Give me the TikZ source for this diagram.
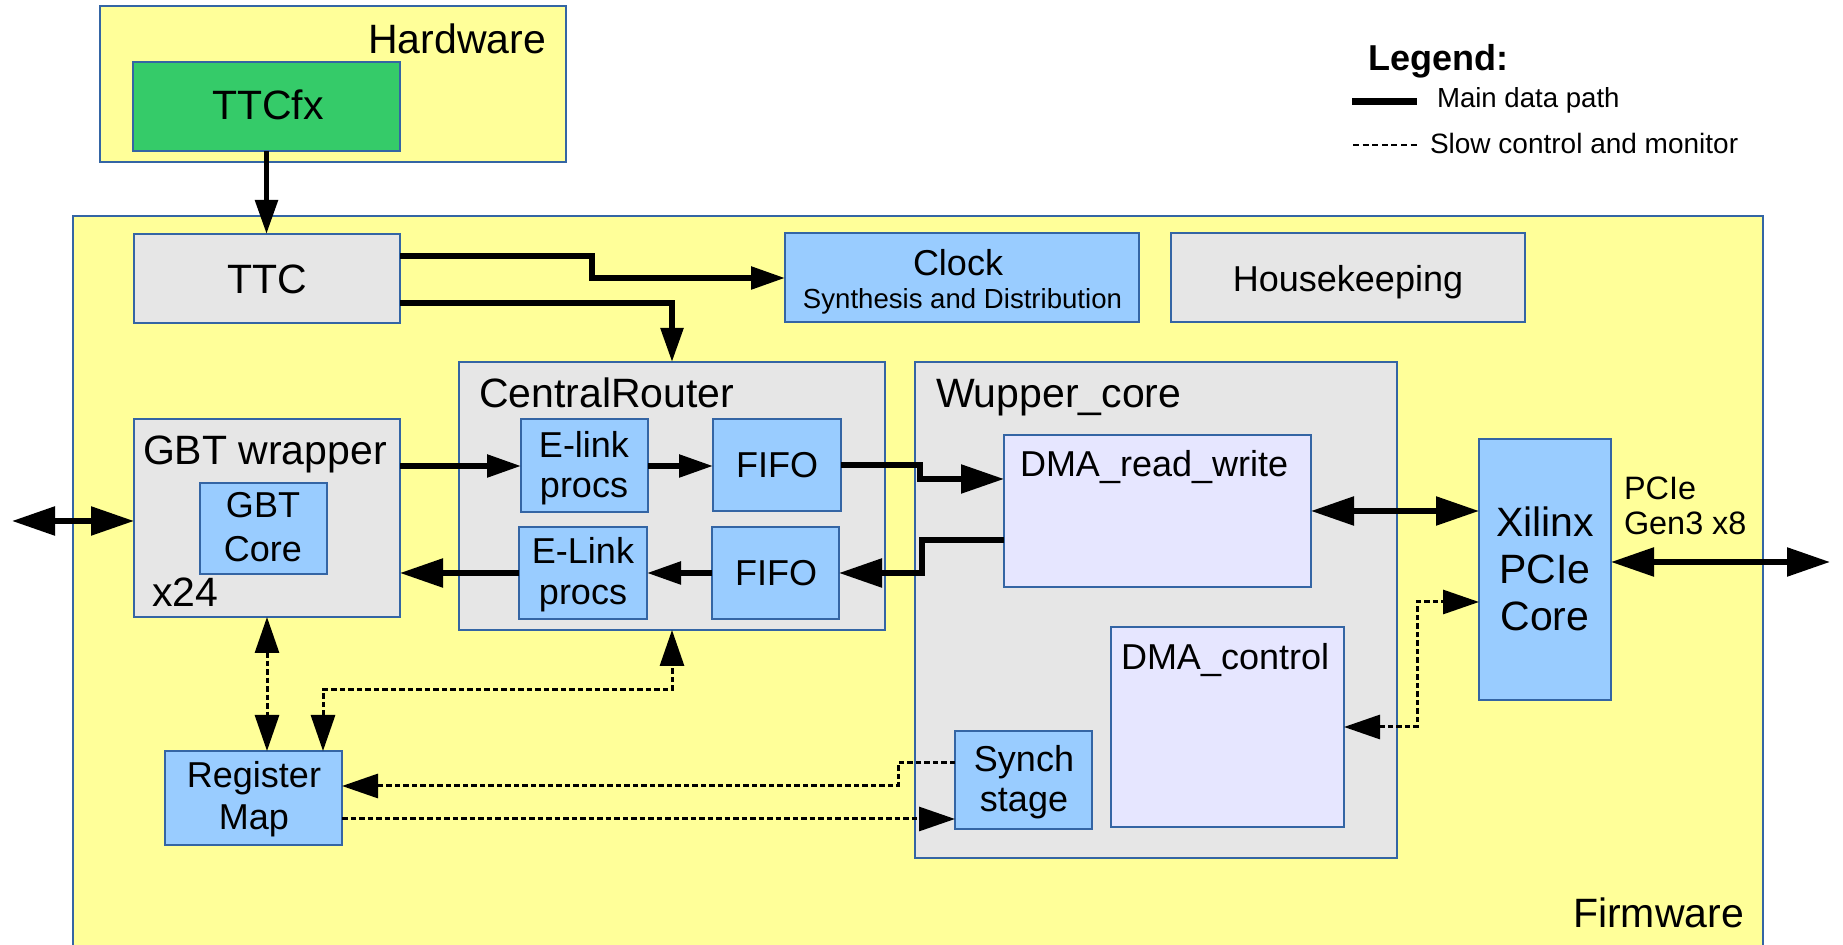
\documentclass[tikz,border=0pt]{standalone}
\usepackage{fontspec}
\setmainfont{Liberation Sans}
\usetikzlibrary{arrows.meta,fit}
\definecolor{fyellow}{HTML}{FFFF99}
\definecolor{fgray}{HTML}{E6E6E6}
\definecolor{fblue}{HTML}{99CCFF}
\definecolor{flav}{HTML}{E6E6FF}
\definecolor{fgreen}{HTML}{35CB69}
\definecolor{fborder}{HTML}{3465A4}
\tikzset{
  stdtip/.tip={Triangle[length=17pt,width=11pt]},
  bigtip/.tip={Triangle[length=21.5pt,width=14pt]},
  dottip/.tip={Triangle[length=18pt,width=12pt]},
  box/.style={draw=fborder, line width=1.3pt, inner sep=0pt, outer sep=0pt},
  outerbox/.style={box, line width=0.9pt, fill=fyellow},
  graybox/.style={box, fill=fgray},
  bluebox/.style={box, fill=fblue},
  lavbox/.style={box, fill=flav},
  greenbox/.style={box, fill=fgreen},
  data/.style={line width=2.75pt, line join=miter},
  ctrl/.style={line width=1.5pt, dash pattern=on 2.75pt off 1.5pt},
  lbl/.style={inner sep=0pt, outer sep=0pt},
  szL/.style={lbl, font=\fontsize{20.5pt}{24pt}\selectfont},
  szM/.style={lbl, font=\fontsize{18pt}{21pt}\selectfont},
  szS/.style={lbl, font=\fontsize{13.8pt}{16pt}\selectfont},
  szP/.style={lbl, font=\fontsize{16.2pt}{19pt}\selectfont},
}
\begin{document}
\begin{tikzpicture}[x=0.5pt,y=-0.5pt]
\useasboundingbox (0,0) rectangle (1843,945);
\fill[white] (0,0) rectangle (1843,945);
% outer containers
\node[outerbox, fit={(100,6) (566,162)}] (hw) {};
\node[outerbox, fit={(73,216) (1763,952)}] (fw) {};
% boxes
\node[greenbox, fit={(133,62) (400,151)}] (ttcfx) {};
\node[graybox, fit={(134,234) (400,323)}] (ttc) {};
\node[bluebox, fit={(785,233) (1139,322)}] (clock) {};
\node[graybox, fit={(1171,233) (1525,322)}] (hk) {};
\node[graybox, fit={(134,419) (400,617)}] (gbtw) {};
\node[bluebox, fit={(200,483) (327,574)}] (gbtc) {};
\node[graybox, fit={(459,362) (885,630)}] (cr) {};
\node[bluebox, fit={(521,419) (648,512)}] (el1) {};
\node[bluebox, fit={(519,527) (647,619)}] (el2) {};
\node[bluebox, fit={(713,419) (841,511)}] (fifo1) {};
\node[bluebox, fit={(712,527) (839,619)}] (fifo2) {};
\node[graybox, fit={(915,362) (1397,858)}] (wup) {};
\node[lavbox, fit={(1004,435) (1311,587)}] (dmarw) {};
\node[lavbox, fit={(1111,627) (1344,827)}] (dmac) {};
\node[bluebox, fit={(955,731) (1092,829)}] (synch) {};
\node[bluebox, fit={(165,751) (342,845)}] (reg) {};
\node[bluebox, fit={(1479,439) (1611,700)}] (xil) {};
% free ends
\coordinate (lext) at (12,521);
\coordinate (rext) at (1830,562);
% main data path
\draw[data,-stdtip] (ttcfx.south) -- (ttcfx.south |- ttc.north);
\draw[data,-stdtip] (ttc.east |- 0,256) -- (592,256) -- (592,278) -- (clock.west |- 0,278);
\draw[data,-stdtip] (ttc.east |- 0,303) -- (672,303) -- (cr.north);
\draw[data,-stdtip] (gbtw.east |- 0,466) -- (el1.west |- 0,466);
\draw[data,-stdtip] (el1.east |- 0,466) -- (fifo1.west |- 0,466);
\draw[data,-bigtip] (fifo1.east |- 0,465) -- (920,465) -- (920,479) -- (dmarw.west |- 0,479);
\draw[data,-bigtip] (dmarw.west |- 0,540) -- (922,540) -- (922,573) -- (fifo2.east |- 0,573);
\draw[data,-stdtip] (fifo2.west |- 0,573) -- (el2.east |- 0,573);
\draw[data,-bigtip] (el2.west |- 0,573) -- (gbtw.east |- 0,573);
\draw[data,bigtip-bigtip] (lext) -- (gbtw.west |- 0,521);
\draw[data,bigtip-bigtip] (dmarw.east |- 0,511) -- (xil.west |- 0,511);
\draw[data,bigtip-bigtip] (xil.east |- 0,562) -- (rext);
% slow control
\draw[ctrl,dottip-dottip] (gbtw.south -| 267,0) -- (reg.north -| 267,0);
\draw[ctrl,dottip-dottip] (reg.north -| 323,0) -- (323,690) -- (672,690) -- (cr.south);
\draw[ctrl,-dottip] (synch.west |- 0,763) -- (898,763) -- (898,786) -- (reg.east |- 0,786);
\draw[ctrl,-dottip] (reg.east |- 0,819) -- (synch.west |- 0,819);
\draw[ctrl,dottip-dottip] (dmac.east |- 0,727) -- (1417,727) -- (1417,602) -- (xil.west |- 0,602);
% texts
\node[szL, anchor=base east] (hwT) at (546,54) {Hardware};
\node[szL, anchor=base] (ttcfxT) at (268,120) {TTCfx};
\node[szL, anchor=base] (ttcT) at (267.5,294) {TTC};
\node[szM, anchor=base] (clockT) at (958,276) {Clock};
\node[szS, anchor=base] (synT) at (962.5,309) {Synthesis and Distribution};
\node[szM, anchor=base] (hkT) at (1348,292) {Housekeeping};
\node[szL, anchor=base west] (gbtwT) at (143,465) {GBT wrapper};
\node[szM, anchor=base] (gbtcA) at (263,518) {GBT};
\node[szM, anchor=base] (gbtcB) at (263,562) {Core};
\node[szL, anchor=base west] (x24T) at (152,607) {x24};
\node[szL, anchor=base west] (crT) at (479,408) {CentralRouter};
\node[szM, anchor=base] (el1A) at (584,458) {E-link};
\node[szM, anchor=base] (el1B) at (584,498) {procs};
\node[szM, anchor=base] (el2A) at (583,564) {E-Link};
\node[szM, anchor=base] (el2B) at (583,605) {procs};
\node[szM, anchor=base] (fifo1T) at (777,478) {FIFO};
\node[szM, anchor=base] (fifo2T) at (776,586) {FIFO};
\node[szL, anchor=base west] (wupT) at (936,408) {Wupper\_core};
\node[szM, anchor=base west] (dmarwT) at (1020,477) {DMA\_read\_write};
\node[szM, anchor=base west] (dmacT) at (1121,670) {DMA\_control};
\node[szM, anchor=base] (synchA) at (1024,772) {Synch};
\node[szM, anchor=base] (synchB) at (1024,812) {stage};
\node[szM, anchor=base] (regA) at (254,788) {Register};
\node[szM, anchor=base] (regB) at (254,830) {Map};
\node[szL, anchor=base] (xilA) at (1545,537) {Xilinx};
\node[szL, anchor=base] (xilB) at (1545,584) {PCIe};
\node[szL, anchor=base] (xilC) at (1545,631) {Core};
\node[szP, anchor=base west] (pcieA) at (1624,500) {PCIe};
\node[szP, anchor=base west] (pcieB) at (1624,535) {Gen3 x8};
\node[szL, anchor=base east] (fwT) at (1744,928) {Firmware};
% legend
\node[lbl, font=\fontsize{18pt}{21pt}\selectfont\bfseries, anchor=base west] (legT) at (1368,71) {Legend:};
\coordinate (lg1a) at (1352,102);
\coordinate (lg1b) at (1417,102);
\coordinate (lg2a) at (1353,145);
\coordinate (lg2b) at (1419,145);
\draw[line width=3.5pt] (lg1a) -- (lg1b);
\draw[line width=1pt, dash pattern=on 3pt off 1.8pt] (lg2a) -- (lg2b);
\node[szS, anchor=base west] (leg1T) at (1437,108) {Main data path};
\node[lbl, font=\fontsize{14pt}{16pt}\selectfont, anchor=base west] (leg2T) at (1430,154) {Slow control and monitor};
\end{tikzpicture}
\end{document}
